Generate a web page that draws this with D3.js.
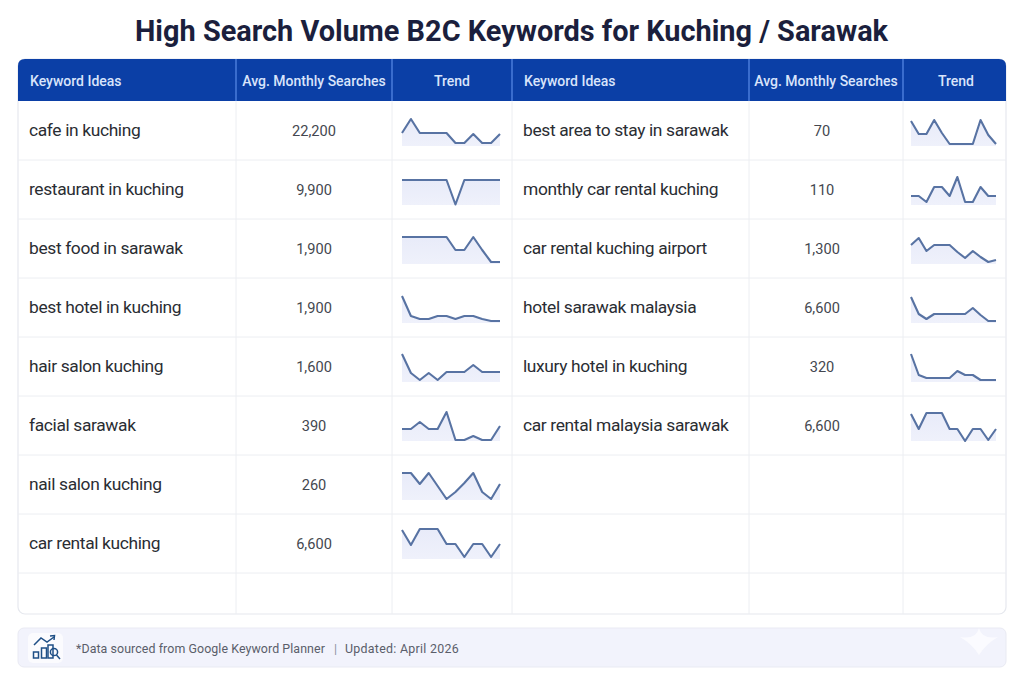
<!DOCTYPE html>
<html>
<head>
<meta charset="utf-8">
<script src="https://cdn.jsdelivr.net/npm/d3@7"></script>
<style>
html,body{margin:0;padding:0;background:#fff;overflow:hidden}
text{font-family:Roboto,sans-serif}
</style>
</head>
<body>
<div id="chart"></div>
<script>
const titleText = 'High Search Volume B2C Keywords for Kuching / Sarawak'
const headers = ['Keyword Ideas', 'Avg. Monthly Searches', 'Trend']
const footText = '*Data sourced from Google Keyword Planner'
const footText2 = 'Updated: April 2026'

const leftKeywords = ['cafe in kuching', 'restaurant in kuching', 'best food in sarawak', 'best hotel in kuching',
    'hair salon kuching', 'facial sarawak', 'nail salon kuching', 'car rental kuching']
const leftSearches = [22200, 9900, 1900, 1900, 1600, 390, 260, 6600]
const leftTrends = [
    [13, 27, 13, 13, 13, 13, 3, 3, 12, 3, 3, 12],
    [25, 25, 25, 25, 25, 25, 0.5, 25, 25, 25, 25, 25],
    [27, 27, 27, 27, 27, 27, 14, 14, 27, 14, 2, 2],
    [27, 7, 4, 4, 7, 7, 4, 7, 7, 4, 2, 2],
    [28, 9, 2, 9, 2, 10, 10, 10, 17, 10, 10, 10],
    [12, 12, 19, 12, 12, 29, 1, 1, 5, 1, 1, 15],
    [27, 27, 16, 27, 14, 1, 8, 17, 27, 8, 1, 16],
    [29, 14, 30, 30, 30, 15, 15, 2, 15, 15, 2, 15]
]

const rightKeywords = ['best area to stay in sarawak', 'monthly car rental kuching', 'car rental kuching airport',
    'hotel sarawak malaysia', 'luxury hotel in kuching', 'car rental malaysia sarawak']
const rightSearches = [70, 110, 1300, 6600, 320, 6600]
const rightTrends = [
    [25, 12, 12, 26, 13, 2, 2, 2, 2, 26, 11, 2],
    [9, 9, 3, 18, 18, 9, 28, 3, 3, 18, 9, 9],
    [19, 26, 13, 19, 19, 19, 12, 6, 13, 7, 2, 4],
    [26, 9, 4, 9, 9, 9, 9, 9, 15, 8, 2, 2],
    [28, 7, 4, 4, 4, 4, 11, 7, 7, 2, 2, 2],
    [27, 12, 28, 28, 28, 12, 12, 0, 12, 12, 1, 12]
]

const width = 1024
const height = 681
const tableLeft = 18
const tableRight = 1006
const tableTop = 59
const headBottom = 101
const tableBottom = 614
const rowH = 59
const rowCount = 9

const svg = d3.select('#chart').append('svg')
    .attr('width', width)
    .attr('height', height)
    .style('display', 'block')

const defs = svg.append('defs')
defs.append('clipPath').attr('id', 'headClip')
    .append('path')
    .attr('d', `M${tableLeft},${headBottom}V${tableTop + 7}Q${tableLeft},${tableTop} ${tableLeft + 7},${tableTop}H${tableRight - 7}Q${tableRight},${tableTop} ${tableRight},${tableTop + 7}V${headBottom}Z`)

const grad = defs.append('linearGradient').attr('id', 'spark').attr('x1', 0).attr('x2', 0).attr('y1', 0).attr('y2', 1)
grad.append('stop').attr('offset', '0%').attr('stop-color', '#e8ebf9')
grad.append('stop').attr('offset', '100%').attr('stop-color', '#eff1fb')

svg.append('text')
    .attr('x', 511.5)
    .attr('y', 41)
    .attr('text-anchor', 'middle')
    .attr('font-size', 28.9)
    .attr('font-weight', 700)
    .attr('fill', '#1b1f3d')
    .text(titleText)

// table body
svg.append('rect')
    .attr('x', tableLeft).attr('y', tableTop)
    .attr('width', tableRight - tableLeft).attr('height', tableBottom - tableTop)
    .attr('rx', 7)
    .attr('fill', '#fff')
    .attr('stroke', '#e6e8ee')
    .attr('stroke-width', 1.2)

const rowY = d3.scaleLinear().domain([0, 1]).range([headBottom, headBottom + rowH])

svg.append('g').selectAll('line')
    .data(d3.range(1, rowCount))
    .join('line')
    .attr('x1', tableLeft).attr('x2', tableRight)
    .attr('y1', d => rowY(d)).attr('y2', d => rowY(d))
    .attr('stroke', '#eceef2')
    .attr('stroke-width', 1)

// header band
svg.append('rect')
    .attr('x', tableLeft).attr('y', tableTop)
    .attr('width', tableRight - tableLeft).attr('height', headBottom - tableTop)
    .attr('fill', '#0b3fa6')
    .attr('clip-path', 'url(#headClip)')

const blocks = [
    {x: [18, 236, 392, 512], numX: 314, trendX: 452, spark: [402, 500], keys: leftKeywords, vals: leftSearches, trends: leftTrends},
    {x: [512, 749, 903, 1006], numX: 822, trendX: 956, spark: [911, 996], keys: rightKeywords, vals: rightSearches, trends: rightTrends}
]

const sparkY = d3.scaleLinear().domain([0, 30]).range([0, -30])
const fmt = d3.format(',')

blocks.forEach(function(b, bi){
    const g = svg.append('g')

    // column rules
    b.x.slice(bi == 0 ? 1 : 0, 3).forEach(function(x){
        g.append('line').attr('x1', x).attr('x2', x).attr('y1', headBottom).attr('y2', tableBottom)
            .attr('stroke', '#eceef2').attr('stroke-width', 1)
        g.append('line').attr('x1', x).attr('x2', x).attr('y1', tableTop).attr('y2', headBottom)
            .attr('stroke', '#5a8be8').attr('stroke-width', 1.2)
    })

    // headers
    const hx = [b.x[0] + 12, (b.x[1] + b.x[2]) / 2, b.trendX]
    headers.forEach(function(h, i){
        g.append('text')
            .attr('x', hx[i]).attr('y', 85.5)
            .attr('text-anchor', i == 0 ? 'start' : 'middle')
            .attr('font-size', 14)
            .attr('font-weight', 500)
            .attr('fill', '#d9e4fb')
            .text(h)
    })

    const sparkX = d3.scaleLinear().domain([0, 11]).range(b.spark)
    const line = d3.line().x((d, i) => sparkX(i)).y(d => sparkY(d))
    const area = d3.area().x((d, i) => sparkX(i)).y0(sparkY(0)).y1(d => sparkY(d))

    b.keys.forEach(function(k, i){
        const mid = rowY(i) + rowH / 2
        g.append('text')
            .attr('x', b.x[0] + 11).attr('y', mid + 5.5)
            .attr('font-size', 17.4)
            .attr('letter-spacing', -0.36)
            .attr('fill', '#2a2d33')
            .text(k)
        g.append('text')
            .attr('x', b.numX).attr('y', mid + 5)
            .attr('text-anchor', 'middle')
            .attr('font-size', 14.6)
            .attr('fill', '#44474f')
            .text(fmt(b.vals[i]))

        const s = g.append('g').attr('transform', `translate(0,${rowY(i) + 45})`)
        s.append('path').attr('d', area(b.trends[i])).attr('fill', 'url(#spark)')
        s.append('path').attr('d', line(b.trends[i]))
            .attr('fill', 'none')
            .attr('stroke', '#5873a3')
            .attr('stroke-width', 2.1)
            .attr('stroke-linejoin', 'round')
    })
})

// footer
svg.append('rect')
    .attr('x', 18).attr('y', 628)
    .attr('width', 988).attr('height', 39)
    .attr('rx', 6)
    .attr('fill', '#f2f3fc')
    .attr('stroke', '#e9eaf3')

svg.append('path')
    .attr('d', 'M979,628Q982,640 998,637Q986,644 979,655Q972,644 960,637Q976,640 979,628Z')
    .attr('fill', '#fbfbff')

svg.append('rect')
    .attr('x', 28).attr('y', 633).attr('width', 35).attr('height', 30).attr('rx', 5).attr('fill', '#fbfbfe')
const icon = svg.append('g').attr('fill', 'none').attr('stroke', '#1f4f86').attr('stroke-width', 1.5)
icon.append('path').attr('d', 'M34,645L41,638L47,642L54,637')
icon.append('path').attr('d', 'M50,636L54.5,635.5L54,640')
icon.append('rect').attr('x', 33.5).attr('y', 652).attr('width', 5).attr('height', 6)
icon.append('rect').attr('x', 41.5).attr('y', 648).attr('width', 5).attr('height', 10)
icon.append('rect').attr('x', 48).attr('y', 645).attr('width', 5).attr('height', 13)
icon.append('circle').attr('cx', 54).attr('cy', 652).attr('r', 3.6)
icon.append('path').attr('d', 'M56.5,655L60,659')

const foot = svg.append('g').attr('font-size', 12.4).attr('fill', '#5a5e6a')
foot.append('text').attr('x', 76).attr('y', 653).attr('letter-spacing', 0.08).text(footText)
foot.append('text').attr('x', 334).attr('y', 653).attr('fill', '#8f93a0').text('|')
foot.append('text').attr('x', 345).attr('y', 653).attr('letter-spacing', 0.28).text(footText2)
</script>
</body>
</html>
